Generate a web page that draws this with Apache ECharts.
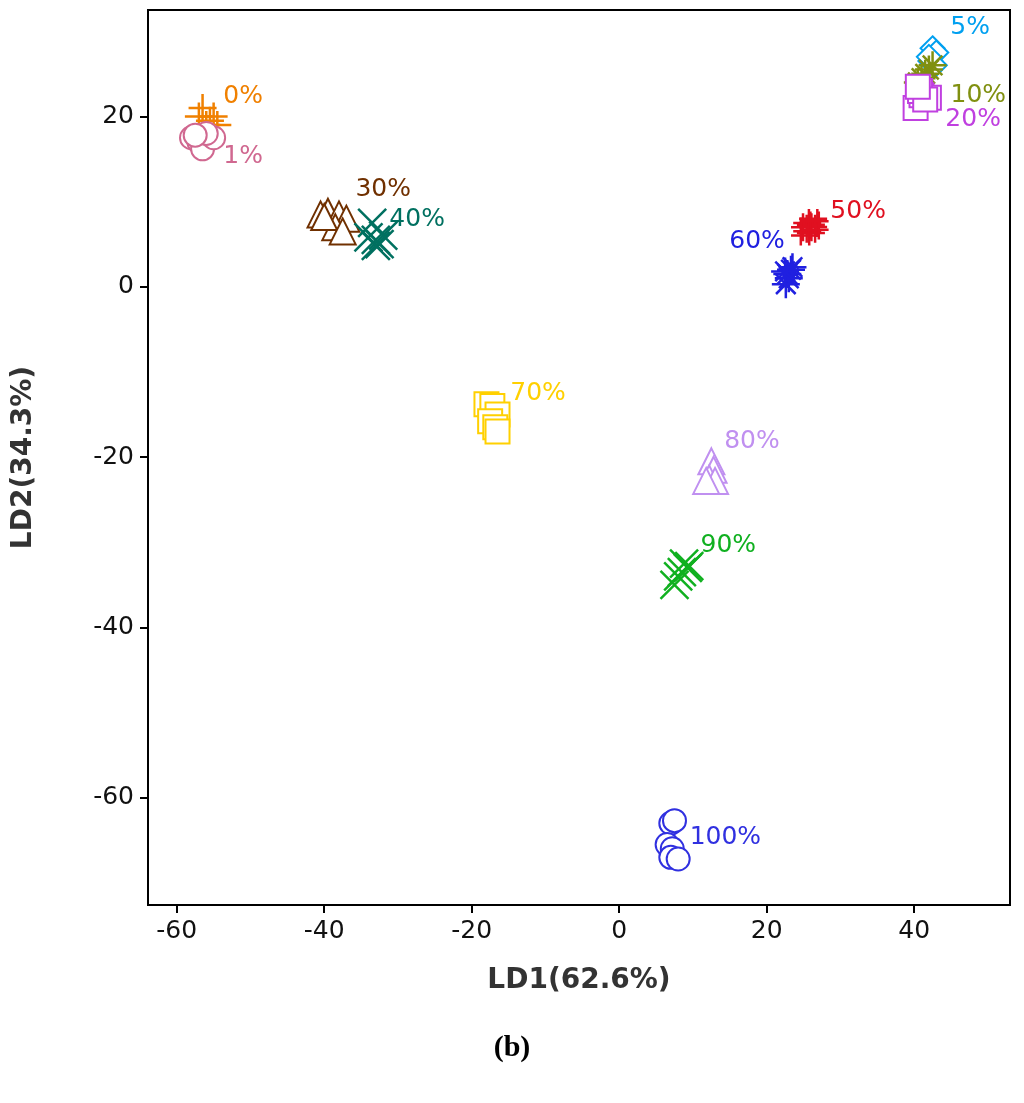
<!DOCTYPE html>
<html><head><meta charset="utf-8">
<script src="https://cdn.jsdelivr.net/npm/echarts@6/dist/echarts.min.js"></script>
<style>html,body{margin:0;padding:0;background:#fff}#c{width:1024px;height:1103px}</style>
</head><body><div id="c"></div>
<script>
const groups = ['0%','1%','5%','10%','20%','30%','40%','50%','60%','70%','80%','90%','100%'];
const colors = ['#f08000','#d06890','#00a0f0','#809010','#c040e0','#703000','#007060','#e01020','#2020e0','#ffd000','#c090f0','#10b020','#3030e0'];
const shapes = ['plus','circle','diamond','star','rect','triangle','cross','hash','star','rect','triangle','cross','circle'];
const points = [
 [[-56.5,21],[-57,20],[-55.5,19.5],[-54.5,19],[-56,19],[-55,20]],
 [[-58,17.5],[-57,17],[-56.5,16.2],[-55,17.5],[-56,18],[-57.5,17.8]],
 [[42.5,28],[43,27.5],[42.2,26.5],[42.8,26],[42,27]],
 [[41,24.5],[42,25.5],[42.5,26],[41.5,25],[40.5,24]],
 [[40.2,21],[41,22.5],[42,22.2],[40.8,23],[41.5,22],[40.5,23.5]],
 [[-40.5,8.5],[-39.5,8.8],[-38,8.5],[-37,8],[-38.5,7],[-40,8.2],[-37.5,6.5]],
 [[-33.5,7.5],[-33,5.5],[-32.5,5],[-34,5.8],[-32,6],[-33,4.8]],
 [[25.5,7],[26.3,7.5],[26,6.8],[25.2,6.5],[26.5,7.2]],
 [[22.8,1.5],[23.3,2],[22.6,0.3],[23,1],[23.5,2.3],[22.5,1.8]],
 [[-18,-13.8],[-17.2,-14],[-16.5,-15],[-17.5,-15.8],[-16.8,-16.5],[-16.5,-17]],
 [[12.5,-20.5],[12.8,-21.5],[12.2,-22.5],[13,-22.8],[11.8,-22.8]],
 [[8.8,-32.5],[9.3,-33],[8,-34],[7.5,-35],[8.5,-33.5],[9.5,-32.8]],
 [[7,-63],[7.5,-62.7],[6.5,-65.5],[7.2,-66],[7,-67],[8,-67.2]]
];
const labelPos = [[-51,22.3],[-51,15.3],[47.6,30.4],[48.7,22.5],[48,19.6],[-32,11.4],[-27.4,7.9],[32.4,8.8],[18.7,5.3],[-11,-12.5],[18,-18.2],[14.8,-30.4],[14.4,-64.7]];
const xTicks = [-60,-40,-20,0,20,40];
const yTicks = [-60,-40,-20,0,20];

const paths = {
  plus:'path://M0,10L20,10M10,0L10,20',
  cross:'path://M0,0L20,20M20,0L0,20',
  star:'path://M0,10L20,10M10,0L10,20M3,3L17,17M17,3L3,17',
  hash:'path://M0,7L20,7M0,13L20,13M7,0L7,20M13,0L13,20'
};
const series = groups.map((g,i)=>{
  const s = shapes[i];
  const line = paths[s];
  return {
    type:'scatter', name:g, data:points[i],
    symbol: line ? line : ('empty'+s[0].toUpperCase()+s.slice(1)),
    symbolSize: s==='diamond'?24:(s==='rect'?24:(s==='triangle'?26:(s==='circle'?23:28))),
    itemStyle: line ? {color:'transparent',borderColor:colors[i],borderWidth:2.5,opacity:1}
                    : {color:colors[i],borderColor:colors[i],borderWidth:2.5,opacity:1},
    silent:true
  };
});
series.push({
  type:'scatter', symbolSize:0, silent:true, itemStyle:{opacity:1},
  data: labelPos.map((p,i)=>({value:p, name:groups[i], label:{color:colors[i]}})),
  label:{show:true, position:'inside', formatter:'{b}', fontSize:25, fontFamily:'DejaVu Sans', opacity:1}
});
const chart = echarts.init(document.getElementById('c'));
chart.setOption({
  animation:false,
  grid:{left:148, top:10, right:14, bottom:198},
  xAxis:{type:'value', min:-63.9, max:53, name:'LD1(62.6%)', nameLocation:'middle', nameGap:62,
    nameTextStyle:{fontSize:28, fontWeight:'bold', fontFamily:'DejaVu Sans', color:'#333'},
    axisLine:{show:true,onZero:false,lineStyle:{color:'#000',width:2}}, axisTick:{show:true,customValues:xTicks,length:8,lineStyle:{color:'#000',width:2}},
    axisLabel:{customValues:xTicks, fontSize:25, color:'#111', fontFamily:'DejaVu Sans', margin:14}, splitLine:{show:false}},
  yAxis:{type:'value', min:-72.6, max:32.5, name:'LD2(34.3%)', nameLocation:'middle', nameGap:110, nameRotate:90,
    nameTextStyle:{fontSize:28, fontWeight:'bold', fontFamily:'DejaVu Sans', color:'#333'},
    axisLine:{show:true,onZero:false,lineStyle:{color:'#000',width:2}}, axisTick:{show:true,customValues:yTicks,length:8,lineStyle:{color:'#000',width:2}},
    axisLabel:{customValues:yTicks, fontSize:25, color:'#111', fontFamily:'DejaVu Sans', margin:14}, splitLine:{show:false}},
  graphic:[
    {type:'rect', shape:{x:148,y:10,width:862,height:895}, style:{fill:'none',stroke:'#000',lineWidth:2}, silent:true},
    {type:'text', x:512, y:1048, style:{text:'(b)', font:'bold 30px "Liberation Serif"', fill:'#000', textAlign:'center', textVerticalAlign:'middle'}}
  ],
  series
});
</script></body></html>
